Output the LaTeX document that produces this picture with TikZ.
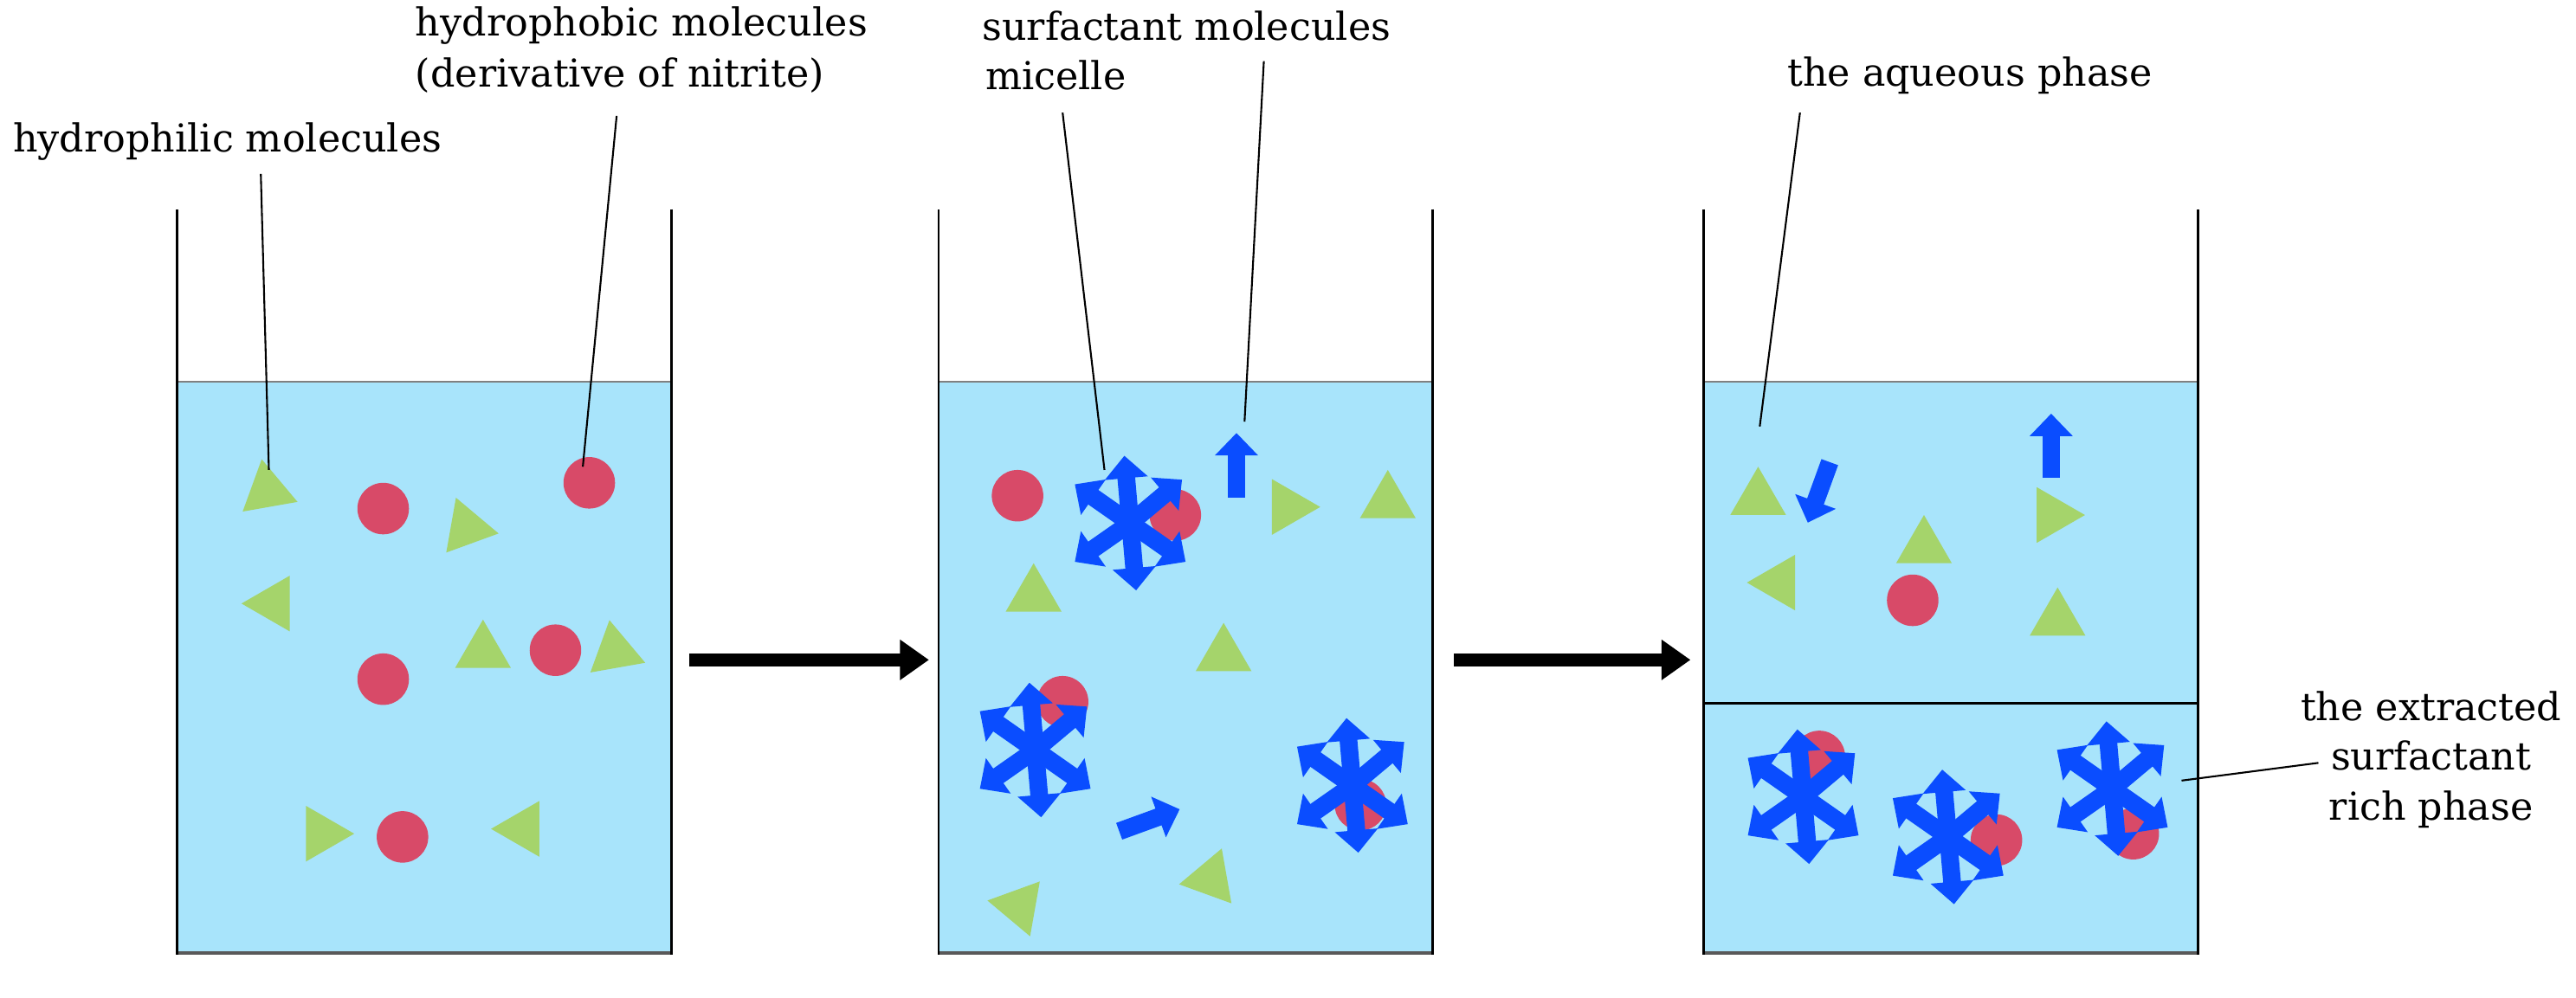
\documentclass[tikz,border=0pt]{standalone}
\usepackage{fontspec}
\setmainfont{DejaVu Serif}
\usetikzlibrary{arrows.meta}
\definecolor{liq}{HTML}{A8E4FB}
\definecolor{sblue}{HTML}{0A4DFF}
\definecolor{tgreen}{HTML}{A5D46B}
\definecolor{cred}{HTML}{D84A68}
\begin{document}
\begin{tikzpicture}[x=0.5mm,y=-0.5mm,
  wall/.style={line width=2.2pt,black},
  lbl/.style={font=\fontsize{34}{44}\selectfont,inner sep=0pt},
  lead/.style={line width=1.6pt,black},
  mol/.style={fill=cred,draw=none},
  tri/.style={fill=tgreen,draw=none},
  surf/.style={sblue,line width=5.5mm,-{Triangle[length=7mm,width=13mm]}},
  bigarrow/.style={line width=4mm,black,-{Triangle[length=9mm,width=12mm]}}]
\useasboundingbox (0,0) rectangle (1600,620);
\newcommand{\tr}[3]{\fill[tri] (#1,#2) ++(-#3:20) -- ++(-#3-150:34.6) -- ++(-#3-270:34.6) -- cycle;}
\newcommand{\ci}[2]{\fill[mol] (#1,#2) circle (16);}
\newcommand{\mic}[2]{\foreach \a in {95,145,215,275,325,40}{\draw[surf] (#1,#2) -- ++(-\a:-1) -- ++(-\a:43);}}
\newcommand{\sa}[3]{\draw[surf] (#1,#2) ++(-#3:-19) -- ++(-#3:40);}
% beakers
\foreach \x in {110,583,1058}{
  \fill[liq] (\x,237) rectangle (\x+307,592);
  \draw[gray,line width=1.5pt] (\x,237) -- (\x+307,237);
  \draw[gray!70!black,line width=3pt] (\x,592) -- (\x+307,592);
  \draw[wall] (\x,130) -- (\x,593) (\x+307,130) -- (\x+307,593);
}
\draw[wall] (1058,437) -- (1365,437);
% big arrows
\coordinate (a1s) at (428,410); \coordinate (a1e) at (577,410);
\coordinate (a2s) at (903,410); \coordinate (a2e) at (1050,410);
\draw[bigarrow] (a1s) -- (a1e);
\draw[bigarrow] (a2s) -- (a2e);
% beaker 1
\tr{166}{305}{-20}\tr{290}{328}{-10}\tr{170}{375}{180}\tr{300}{405}{90}\tr{382}{405}{100}\tr{200}{518}{0}\tr{325}{515}{180}
\ci{238}{316}\ci{366}{300}\ci{238}{422}\ci{345}{404}\ci{250}{520}
% beaker 2
\ci{632}{308}\ci{730}{320}\ci{660}{436}\ci{845}{500}
\tr{800}{315}{0}\tr{862}{312}{90}\tr{642}{370}{90}\tr{760}{407}{90}\tr{633}{563}{170}\tr{752}{546}{70}
\mic{702}{325}\mic{643}{466}\mic{840}{488}
\sa{768}{290}{90}\sa{713}{510}{20}
% beaker 3
\tr{1092}{310}{90}\tr{1195}{340}{90}\tr{1105}{362}{60}\tr{1275}{320}{0}\tr{1278}{385}{90}
\ci{1188}{373}\ci{1130}{470}\ci{1240}{522}\ci{1325}{518}
\sa{1274}{278}{90}\sa{1130}{305}{250}
\mic{1120}{495}\mic{1210}{520}\mic{1312}{490}
% labels
\node[lbl,anchor=west] (l1) at (8,88) {hydrophilic molecules};
\node[lbl,anchor=west] (l2) at (258,16) {hydrophobic molecules};
\node[lbl,anchor=west] (l2b) at (258,47) {(derivative of nitrite)};
\node[lbl,anchor=west] (l3) at (612,47) {micelle};
\node[lbl,anchor=west] (l4) at (610,16) {surfactant molecules};
\node[lbl,anchor=west] (l5) at (1110,47) {the aqueous phase};
\node[lbl,align=center] (l6) at (1510,472) {the extracted\\surfactant\\rich phase};
\coordinate (p1) at (167,292); \coordinate (p2) at (362,290);
\coordinate (p3) at (686,292); \coordinate (p4) at (773,262);
\coordinate (p5) at (1093,265); \coordinate (p6) at (1355,485);
\draw[lead] (162,108) -- (p1);
\draw[lead] (383,72) -- (p2);
\draw[lead] (660,70) -- (p3);
\draw[lead] (785,38) -- (p4);
\draw[lead] (1118,70) -- (p5);
\draw[lead] (1440,474) -- (p6);
\end{tikzpicture}
\end{document}
